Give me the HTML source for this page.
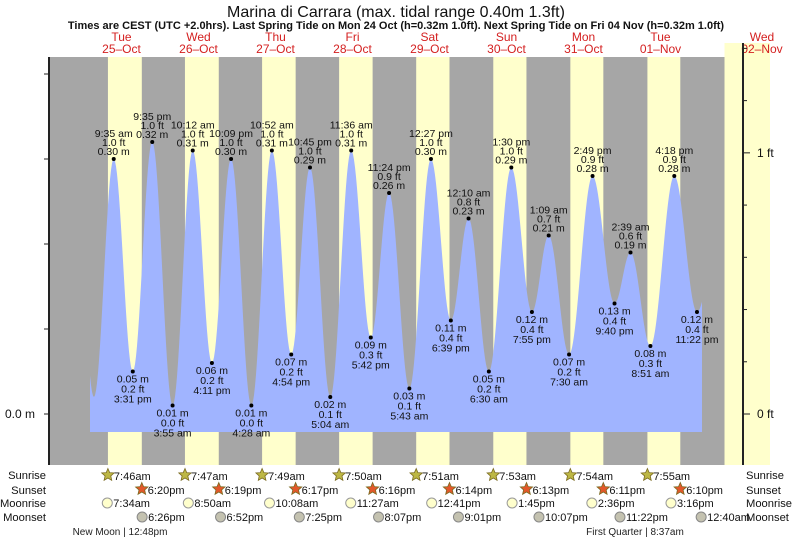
<!DOCTYPE html>
<html><head><meta charset="utf-8"><style>
body{margin:0;background:#fff;}
svg{display:block;font-family:"Liberation Sans",sans-serif;}
</style></head><body>
<svg id="c" width="793" height="539" viewBox="0 0 793 539" xmlns="http://www.w3.org/2000/svg">
<text x="396" y="17" text-anchor="middle" font-size="16" fill="#111">Marina di Carrara (max. tidal range 0.40m 1.3ft)</text>
<text x="396" y="29" text-anchor="middle" font-size="11" font-weight="bold" fill="#111">Times are CEST (UTC +2.0hrs). Last Spring Tide on Mon 24 Oct (h=0.32m 1.0ft). Next Spring Tide on Fri 04 Nov (h=0.32m 1.0ft)</text>
<g id="bg"></g>
<g id="tide"></g>
<g id="axes"></g>
<g id="labels"></g>
<g id="astro"></g>
</svg>
<script>
// data (hours since 25-Oct 00:00, heights in metres)
const dayNames = ["Tue","Wed","Thu","Fri","Sat","Sun","Mon","Tue","Wed"];
const dayDates = ["25–Oct","26–Oct","27–Oct","28–Oct","29–Oct","30–Oct","31–Oct","01–Nov","02–Nov"];
const sunriseH = [7.77,7.78,7.82,7.83,7.85,7.88,7.9,7.92,7.95];
const sunsetH = [18.33,18.32,18.28,18.27,18.23,18.22,18.18,18.17,18.13];
const sunriseText = ["7:46am","7:47am","7:49am","7:50am","7:51am","7:53am","7:54am","7:55am"];
const sunsetText = ["6:20pm","6:19pm","6:17pm","6:16pm","6:14pm","6:13pm","6:11pm","6:10pm"];
const moonriseH = [7.57,32.83,58.13,83.45,108.68,133.75,158.6,183.27];
const moonriseText = ["7:34am","8:50am","10:08am","11:27am","12:41pm","1:45pm","2:36pm","3:16pm"];
const moonsetH = [18.43,42.87,67.42,92.12,117.02,142.12,167.37,192.67];
const moonsetText = ["6:26pm","6:52pm","7:25pm","8:07pm","9:01pm","10:07pm","11:22pm","12:40am"];
const extT = [-3,3.4,9.58,15.52,21.58,27.92,34.2,40.18,46.15,52.47,58.87,64.9,70.75,77.07,83.6,89.7,95.4,101.72,108.45,114.65,120.17,126.5,133.5,139.92,145.15,151.5,158.82,165.67,170.65,176.85,184.3,191.37,197.5];
const extH = [0.31,0.02,0.30,0.05,0.32,0.01,0.31,0.06,0.30,0.01,0.31,0.07,0.29,0.02,0.31,0.09,0.26,0.03,0.30,0.11,0.23,0.05,0.29,0.12,0.21,0.07,0.28,0.13,0.19,0.08,0.28,0.12,0.20];
const extTime = ["","","9:35 am","3:31 pm","9:35 pm","3:55 am","10:12 am","4:11 pm","10:09 pm","4:28 am","10:52 am","4:54 pm","10:45 pm","5:04 am","11:36 am","5:42 pm","11:24 pm","5:43 am","12:27 pm","6:39 pm","12:10 am","6:30 am","1:30 pm","7:55 pm","1:09 am","7:30 am","2:49 pm","9:40 pm","2:39 am","8:51 am","4:18 pm","11:22 pm",""];
const extFt = ["","","1.0","0.2","1.0","0.0","1.0","0.2","1.0","0.0","1.0","0.2","1.0","0.1","1.0","0.3","0.9","0.1","1.0","0.4","0.8","0.2","1.0","0.4","0.7","0.2","0.9","0.4","0.6","0.3","0.9","0.4",""];
const leftTicks = [0,0.1,0.2,0.3,0.4];
const rightTicksFt = [0,0.2,0.4,0.6,0.8,1.0,1.2,1.4];

const NS="http://www.w3.org/2000/svg";
const X0=83, PXH=77/24, Y0=414, PXM=850;
const x=h=>X0+h*PXH, y=m=>Y0-m*PXM;
function mk(tag,attrs,parent,txt){const e=document.createElementNS(NS,tag);for(const k in attrs)e.setAttribute(k,attrs[k]);if(txt!==undefined)e.textContent=txt;parent.appendChild(e);return e;}
const bg=document.getElementById('bg'),tide=document.getElementById('tide'),axes=document.getElementById('axes'),labels=document.getElementById('labels'),astro=document.getElementById('astro');
const TOP=57,BOT=465,L=49,R=743;
let r=mk('rect',{x:L,y:TOP,width:R-L,height:BOT-TOP,fill:'#a6a6a6'},bg);

for(let i=0;i<9;i++){
  const a=x(24*i+sunriseH[i]);let b=x(24*i+sunsetH[i]);if(i==8)b=770;
  const band=mk('rect',{x:a,y:i==8?43:TOP,width:b-a,height:BOT-(i==8?43:TOP),fill:'#ffffcc'},bg);
  
  const cx=i==8?762:x(24*i+12);
  const t1=mk('text',{x:cx,y:41,'text-anchor':'middle','font-size':12,fill:'#d42020'},bg,dayNames[i]);
  
  const t2=mk('text',{x:cx,y:53,'text-anchor':'middle','font-size':12,fill:'#d42020'},bg,dayDates[i]);
  
}
// tide curve
const XS=90,XE=702;let pts=[];
for(let px=XS;px<=XE;px+=1){
  const h=(px-X0)/PXH;let k=0;while(k<extT.length-2&&extT[k+1]<h)k++;
  const t0=extT[k],t1=extT[k+1],f=(h-t0)/(t1-t0);
  const v=extH[k]+(extH[k+1]-extH[k])*(1-Math.cos(Math.PI*f))/2;
  pts.push(px+','+y(v).toFixed(1));
}
pts.push(XE+',432',XS+',432');
const poly=mk('polygon',{points:pts.join(' '),fill:'#a0b4ff'},tide);

// axes
let al=mk('line',{x1:L,y1:TOP,x2:L,y2:BOT,stroke:'#222','stroke-width':2},axes);

let ar=mk('line',{x1:R,y1:43,x2:R,y2:BOT,stroke:'#222','stroke-width':2},axes);

leftTicks.forEach(m=>{const t=mk('line',{x1:L-5,y1:y(m),x2:L,y2:y(m),stroke:'#222'},axes);});
const lt=mk('text',{x:L-14,y:y(0)+4,'text-anchor':'end','font-size':12,fill:'#111'},axes,'0.0 m');

rightTicksFt.forEach(f=>{const yy=Y0-f*0.3048*PXM*1.008;const t=mk('line',{x1:R,y1:yy,x2:R+(f%1===0?7:4),y2:yy,stroke:'#222'},axes);
  if(f===0||f===1){const tl=mk('text',{x:R+14,y:yy+4,'font-size':12,fill:'#111'},axes,(f===0?'0':'1')+' ft');}});
// extreme labels
for(let i=2;i<extT.length-1;i++){
  const cx=x(extT[i]),cy=y(extH[i]),hi=extH[i]>extH[i-1];
  const d=mk('circle',{cx:cx,cy:cy,r:2,fill:'#000'},labels);
  
  const lines=hi?[[extTime[i],-22],[extFt[i]+' ft',-13],[extH[i].toFixed(2)+' m',-4]]:[[extH[i].toFixed(2)+' m',11],[extFt[i]+' ft',21],[extTime[i],31]];
  lines.forEach(([s,dy])=>{const t=mk('text',{x:cx,y:cy+dy,'text-anchor':'middle','font-size':10.5,fill:'#111'},labels,s);});
}
// astronomy rows
const rows=[["Sunrise",479],["Sunset",494],["Moonrise",507],["Moonset",521]];
rows.forEach(([n,yy])=>{
  const a=mk('text',{x:46,y:yy,'text-anchor':'end','font-size':11.2,fill:'#111'},astro,n);
  const b=mk('text',{x:746,y:yy,'font-size':11.2,fill:'#111'},astro,n);
});
function star(cx,cy,fill){let p=[];for(let k=0;k<10;k++){const rr=k%2?3:6.5,a=-Math.PI/2+k*Math.PI/5;p.push((cx+rr*Math.cos(a)).toFixed(1)+','+(cy+rr*Math.sin(a)).toFixed(1));}return mk('polygon',{points:p.join(' '),fill:fill,stroke:'#7a6a20','stroke-width':0.8},astro);}
for(let i=0;i<8;i++){
  let sx=x(24*i+sunriseH[i]);let s=star(sx,475,'#bdb744');
  let t=mk('text',{x:sx+6,y:480,'font-size':11,fill:'#111'},astro,sunriseText[i]);
  sx=x(24*i+sunsetH[i]);s=star(sx,489,'#e2582a');
  t=mk('text',{x:sx+6,y:494,'font-size':11,fill:'#111'},astro,sunsetText[i]);
  sx=x(moonriseH[i]);let c=mk('circle',{cx:sx,cy:503,r:5,fill:'#ffffcc',stroke:'#999'},astro);
  t=mk('text',{x:sx+6,y:507,'font-size':11,fill:'#111'},astro,moonriseText[i]);
  sx=x(moonsetH[i]);c=mk('circle',{cx:sx,cy:517,r:5,fill:'#c4c2b0',stroke:'#888'},astro);
  t=mk('text',{x:sx+6,y:521,'font-size':11,fill:'#111'},astro,moonsetText[i]);
}
let m1=mk('text',{x:120,y:535,'text-anchor':'middle','font-size':10,fill:'#222'},astro,'New Moon | 12:48pm');
let m2=mk('text',{x:635,y:535,'text-anchor':'middle','font-size':10,fill:'#222'},astro,'First Quarter | 8:37am');
</script>
</body></html>
